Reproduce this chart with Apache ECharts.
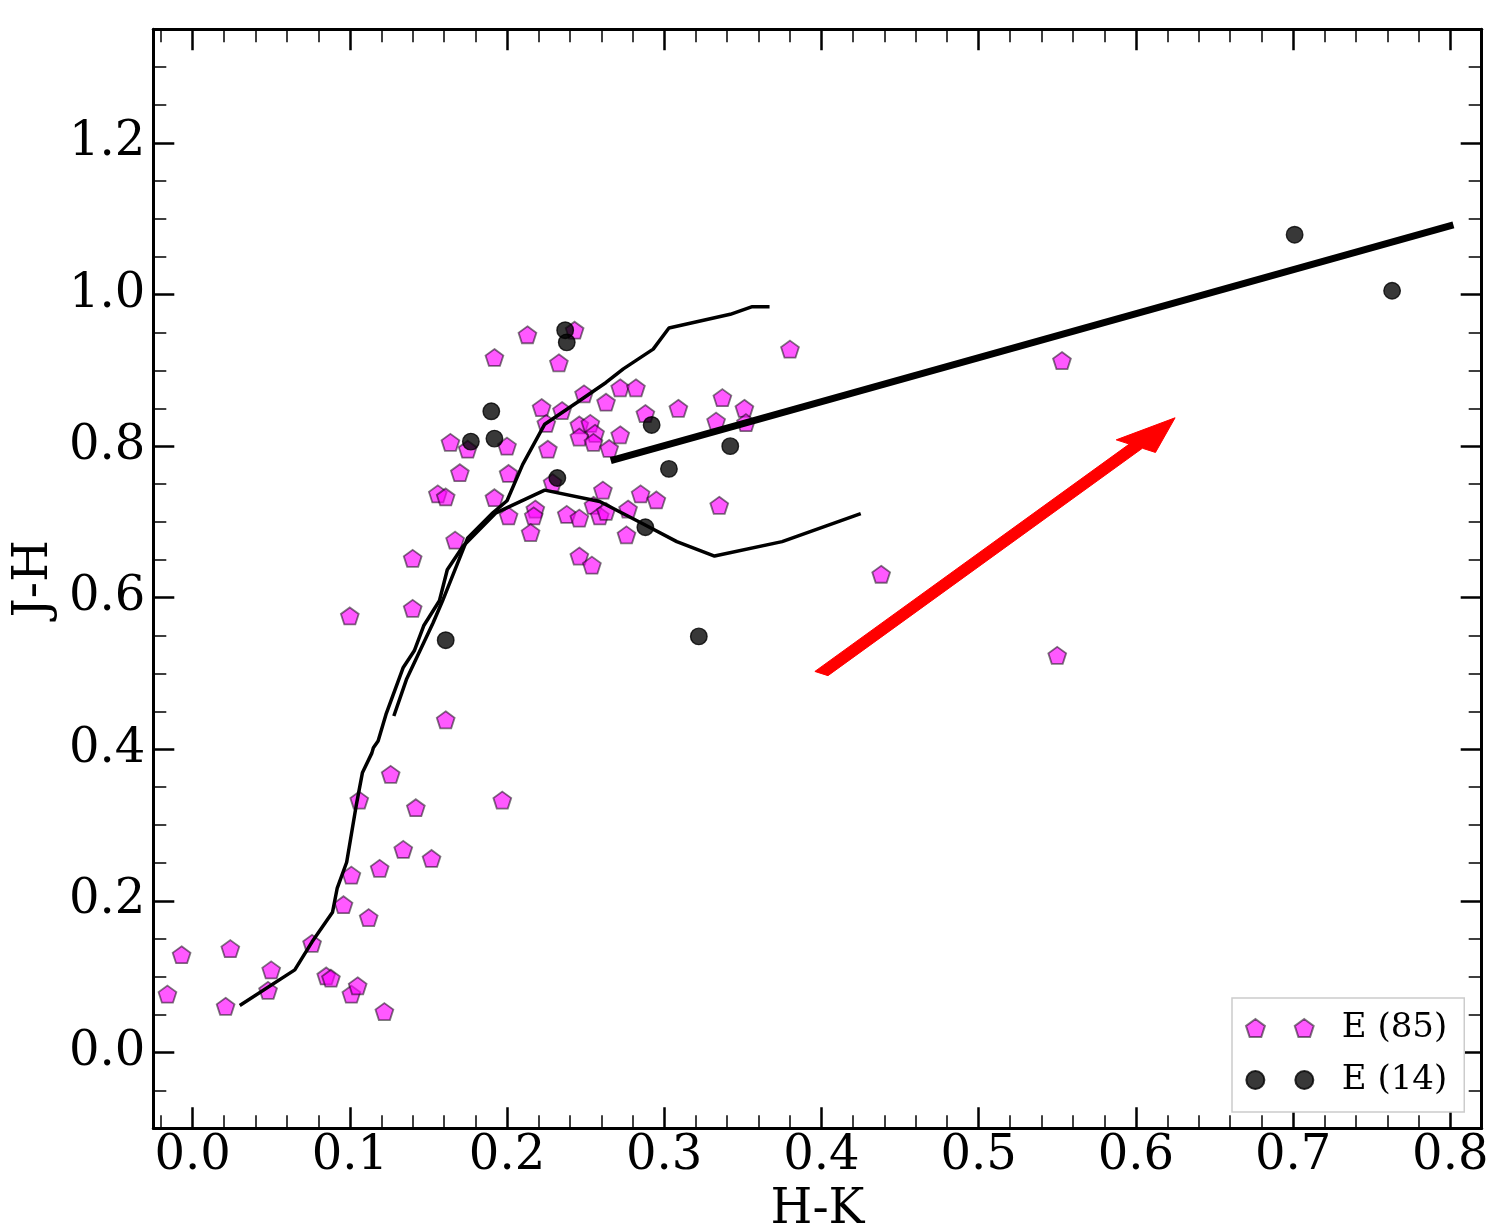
<!DOCTYPE html>
<html>
<head>
<meta charset="utf-8">
<script src="https://cdn.jsdelivr.net/npm/echarts@6/dist/echarts.min.js"></script>
<style>
html, body { margin: 0; padding: 0; background: #fff; }
#main { width: 1511px; height: 1231px; }
</style>
</head>
<body>
<div id="main"></div>
<script>
// magenta pentagons, E (85)
var pentHK = [-0.016, -0.007, 0.024, 0.021, 0.050, 0.048, 0.076, 0.085, 0.088, 0.101,
  0.105, 0.122, 0.112, 0.096, 0.101, 0.119, 0.106, 0.126, 0.134, 0.142,
  0.152, 0.197, 0.161, 0.100, 0.140, 0.140, 0.167, 0.156, 0.161, 0.170,
  0.164, 0.175, 0.192, 0.192, 0.213, 0.243, 0.233, 0.380, 0.249, 0.272,
  0.282, 0.263, 0.222, 0.235, 0.309, 0.337, 0.351, 0.333, 0.352, 0.200,
  0.225, 0.246, 0.253, 0.256, 0.246, 0.255, 0.272, 0.265, 0.288, 0.226,
  0.201, 0.229, 0.201, 0.218, 0.217, 0.215, 0.238, 0.246, 0.261, 0.255,
  0.259, 0.263, 0.277, 0.285, 0.295, 0.276, 0.335, 0.246, 0.254, 0.438,
  0.553, 0.550];
var pentJH = [0.077, 0.129, 0.137, 0.061, 0.109, 0.082, 0.144, 0.101, 0.098, 0.077,
  0.088, 0.054, 0.178, 0.195, 0.234, 0.243, 0.333, 0.367, 0.268, 0.323,
  0.256, 0.333, 0.439, 0.576, 0.586, 0.652, 0.676, 0.737, 0.733, 0.765,
  0.805, 0.796, 0.917, 0.732, 0.947, 0.953, 0.910, 0.928, 0.869, 0.877,
  0.877, 0.858, 0.851, 0.847, 0.850, 0.864, 0.850, 0.833, 0.831, 0.800,
  0.830, 0.828, 0.830, 0.817, 0.812, 0.805, 0.815, 0.797, 0.843, 0.796,
  0.764, 0.752, 0.708, 0.717, 0.708, 0.686, 0.710, 0.705, 0.742, 0.722,
  0.708, 0.714, 0.717, 0.737, 0.729, 0.683, 0.722, 0.655, 0.643, 0.631,
  0.913, 0.524];

// dark circles, E (14)
var circHK = [0.237, 0.238, 0.190, 0.192, 0.177, 0.292, 0.232, 0.303, 0.342, 0.288,
  0.161, 0.322, 0.701, 0.763];
var circJH = [0.953, 0.937, 0.846, 0.810, 0.806, 0.828, 0.758, 0.770, 0.800, 0.693,
  0.544, 0.549, 1.079, 1.005];

// dwarf locus
var dwarfHK = [0.030, 0.065, 0.076, 0.089, 0.092, 0.098, 0.101, 0.104, 0.108, 0.114,
  0.115, 0.118, 0.123, 0.134, 0.141, 0.147, 0.157, 0.162, 0.172, 0.193,
  0.224, 0.259, 0.287, 0.308, 0.332, 0.375, 0.425];
var dwarfJH = [0.062, 0.109, 0.146, 0.185, 0.217, 0.251, 0.288, 0.325, 0.369, 0.395,
  0.402, 0.411, 0.446, 0.508, 0.530, 0.563, 0.596, 0.637, 0.668, 0.712,
  0.742, 0.727, 0.697, 0.674, 0.655, 0.674, 0.711];

// giant branch
var giantHK = [0.128, 0.136, 0.153, 0.159, 0.175, 0.191, 0.200, 0.210, 0.224, 0.244,
  0.263, 0.274, 0.293, 0.303, 0.342, 0.356, 0.367];
var giantJH = [0.444, 0.492, 0.567, 0.596, 0.679, 0.712, 0.728, 0.776, 0.829, 0.857,
  0.884, 0.902, 0.928, 0.956, 0.974, 0.984, 0.984];

// CTTS locus
var cttsHK = [0.266, 0.802];
var cttsJH = [0.781, 1.092];

// reddening vector: start and offset
var redStart = [0.4, 0.5];
var redDelta = [0.2, 0.3];

var legendNames = ['E (85)', 'E (14)'];

function zip(a, b) {
  return a.map(function (v, i) { return [v, b[i]]; });
}

var serif = 'DejaVu Serif';
var pentPath = 'path://M0,-1 L0.951,-0.309 L0.588,0.809 L-0.588,0.809 L-0.951,-0.309 Z';
var pentPair = 'path://M0.951,0 L1.902,0.691 L1.539,1.809 L0.363,1.809 L0,0.691 Z ' +
  'M5.851,0 L6.802,0.691 L6.439,1.809 L5.263,1.809 L4.9,0.691 Z';
var circPair = 'path://M0,1 A1,1 0 1,1 2,1 A1,1 0 1,1 0,1 Z M5.44,1 A1,1 0 1,1 7.44,1 A1,1 0 1,1 5.44,1 Z';

function fmt(v) { return v.toFixed(1); }

function xAxisCfg(pos, showLabels) {
  return {
    type: 'value', position: pos, min: -0.025, max: 0.82, splitNumber: 8,
    name: showLabels ? 'H-K' : '', nameLocation: 'middle', nameGap: 58,
    nameTextStyle: { fontFamily: serif, fontSize: 48, color: '#000' },
    axisLine: { show: true, onZero: false, lineStyle: { color: '#000', width: 3 } },
    axisTick: { show: true, inside: true, length: 21, lineStyle: { color: '#000', width: 2.5 } },
    minorTick: { show: true, splitNumber: 5, length: 13, lineStyle: { color: '#000', width: 1.5 } },
    splitLine: { show: false },
    minorSplitLine: { show: false },
    axisLabel: {
      show: showLabels, showMinLabel: false, showMaxLabel: false, margin: 4,
      fontFamily: serif, fontSize: 48, color: '#000', formatter: fmt
    }
  };
}

function yAxisCfg(pos, showLabels) {
  return {
    type: 'value', position: pos, min: -0.1, max: 1.35, splitNumber: 7,
    name: showLabels ? 'J-H' : '', nameLocation: 'middle', nameGap: 88, nameRotate: 90,
    nameTextStyle: { fontFamily: serif, fontSize: 48, color: '#000' },
    axisLine: { show: true, onZero: false, lineStyle: { color: '#000', width: 3 } },
    axisTick: { show: true, inside: true, length: 21, lineStyle: { color: '#000', width: 2.5 } },
    minorTick: { show: true, splitNumber: 4, length: 13, lineStyle: { color: '#000', width: 1.5 } },
    splitLine: { show: false },
    minorSplitLine: { show: false },
    axisLabel: {
      show: showLabels, showMinLabel: false, showMaxLabel: false, margin: 8,
      fontFamily: serif, fontSize: 48, color: '#000', formatter: fmt
    }
  };
}

var chart = echarts.init(document.getElementById('main'));

var option = {
  animation: false,
  backgroundColor: '#fff',
  grid: { left: 153.3, right: 29.3, top: 29.3, bottom: 102.7, outerBoundsMode: 'none', containLabel: false },
  xAxis: [xAxisCfg('bottom', true), xAxisCfg('top', false)],
  yAxis: [yAxisCfg('left', true), yAxisCfg('right', false)],
  legend: {
    orient: 'vertical', left: 1232, top: 998,
    padding: [12, 17, 14, 13], itemGap: 16,
    itemWidth: 68, itemHeight: 18,
    backgroundColor: '#fff', borderColor: '#cccccc', borderWidth: 1.5, borderRadius: 0,
    textStyle: { fontFamily: serif, fontSize: 34, lineHeight: 36, color: '#000', padding: [0, 0, 0, 23] },
    data: [
      { name: legendNames[0], icon: pentPair },
      { name: legendNames[1], icon: circPair }
    ]
  },
  series: [
    {
      name: legendNames[0], type: 'scatter', z: 2,
      symbol: pentPath, symbolSize: [17.8, 17],
      itemStyle: { opacity: 1, color: 'rgba(255,0,255,0.65)', borderColor: 'rgba(0,0,0,0.5)', borderWidth: 1.8 },
      data: zip(pentHK, pentJH)
    },
    {
      name: legendNames[1], type: 'scatter', z: 3,
      symbol: 'circle', symbolSize: 16.5,
      itemStyle: { opacity: 1, color: 'rgba(0,0,0,0.78)', borderColor: 'rgba(0,0,0,0.8)', borderWidth: 1.4 },
      data: zip(circHK, circJH)
    },
    {
      type: 'line', z: 4, symbol: 'none', silent: true,
      lineStyle: { color: '#000', width: 3.5 },
      data: zip(dwarfHK, dwarfJH)
    },
    {
      type: 'line', z: 4, symbol: 'none', silent: true,
      lineStyle: { color: '#000', width: 3.5 },
      data: zip(giantHK, giantJH)
    },
    {
      type: 'line', z: 4, symbol: 'none', silent: true,
      lineStyle: { color: '#000', width: 7 },
      data: zip(cttsHK, cttsJH)
    },
    {
      // arrow built in data units like matplotlib's FancyArrow, then mapped to pixels
      type: 'custom', z: 5, silent: true,
      data: [[redStart[0], redStart[1], redDelta[0], redDelta[1]]],
      renderItem: function (params, api) {
        var x = api.value(0), y = api.value(1), dx = api.value(2), dy = api.value(3);
        var L = Math.sqrt(dx * dx + dy * dy);
        var ux = dx / L, uy = dy / L, nx = -uy, ny = ux;
        var lw = 0.01, hw = 0.03, hl = 0.045;
        function p(a, b) { return api.coord([x + ux * a + nx * b, y + uy * a + ny * b]); }
        var pts = [
          p(L + hl, 0),
          p(L, -hw / 2), p(L, -lw / 2), p(0, -lw / 2),
          p(0, lw / 2), p(L, lw / 2), p(L, hw / 2)
        ];
        return {
          type: 'polygon',
          shape: { points: pts },
          style: { fill: '#ff0000', stroke: '#ff0000', lineWidth: 1 }
        };
      }
    }
  ]
};

chart.setOption(option);
</script>
</body>
</html>
